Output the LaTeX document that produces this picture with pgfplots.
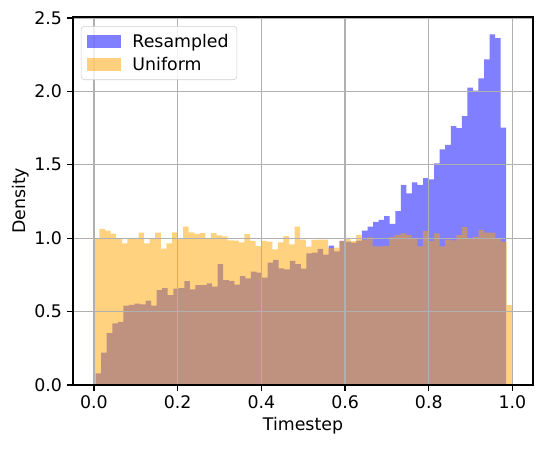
\documentclass[border=0pt]{standalone}
\usepackage{fontspec}
\setmainfont{DejaVu Sans}
\usepackage{pgfplots}
\pgfplotsset{compat=1.18}

\definecolor{mplblue}{rgb}{0,0,1}
\definecolor{mplorange}{rgb}{1,0.647,0}
\definecolor{gridgray}{HTML}{B0B0B0}

\begin{document}
\begin{tikzpicture}
\begin{axis}[
  scale only axis,
  width=331.2pt, height=265.1pt,
  xmin=-0.05, xmax=1.049, ymin=0, ymax=2.508,
  xtick={0,0.2,0.4,0.6,0.8,1.0},
  ytick={0,0.5,1.0,1.5,2.0,2.5},
  xticklabel style={/pgf/number format/.cd,fixed,fixed zerofill,precision=1},
  yticklabel style={/pgf/number format/.cd,fixed,fixed zerofill,precision=1},
  /pgf/number format/assume math mode=true,
  tick label style={font=\fontsize{12.5}{15}\selectfont},
  label style={font=\fontsize{12.5}{15}\selectfont},
  xlabel={Timestep}, ylabel={Density},
  xlabel style={yshift=1pt},
  ylabel style={yshift=-3pt},
  tick align=outside, major tick length=4.4pt,
  tick style={black, line width=1pt},
  xtick pos=bottom, ytick pos=left,
  axis line style={line width=1pt},
  grid=major, major grid style={gridgray, line width=1pt},
  axis on top=true,
  legend style={at={(0.017,0.975)}, anchor=north west,
    draw=black!20, rounded corners=2.5pt, fill=white, fill opacity=0.8, text opacity=1,
    font=\fontsize{12.5}{15}\selectfont, row sep=1.5pt, inner xsep=4pt, inner ysep=3.5pt},
  legend cell align=left,
  legend image code/.code={\fill[#1, sharp corners] (0pt,-4.4pt) rectangle (25pt,4.4pt);
    \path (31pt,0pt);},
]
% Resampled
\addplot[const plot mark left, draw=none, fill=mplblue, fill opacity=0.5] coordinates {
(0.0040,0.080) (0.0173,0.220) (0.0305,0.354) (0.0438,0.420) (0.0570,0.430)
(0.0703,0.540) (0.0835,0.545) (0.0968,0.554) (0.1101,0.550) (0.1233,0.574)
(0.1366,0.540) (0.1498,0.647) (0.1631,0.660) (0.1763,0.613) (0.1896,0.656)
(0.2029,0.660) (0.2161,0.708) (0.2294,0.652) (0.2426,0.681) (0.2559,0.681)
(0.2691,0.693) (0.2824,0.670) (0.2957,0.824) (0.3089,0.715) (0.3222,0.710)
(0.3354,0.683) (0.3487,0.742) (0.3619,0.727) (0.3752,0.772) (0.3885,0.765)
(0.4017,0.731) (0.4150,0.834) (0.4282,0.852) (0.4415,0.794) (0.4547,0.788)
(0.4680,0.845) (0.4813,0.824) (0.4945,0.792) (0.5078,0.897) (0.5210,0.901)
(0.5343,0.928) (0.5475,0.888) (0.5608,0.949) (0.5741,0.910) (0.5873,0.981)
(0.6006,0.976) (0.6138,0.970) (0.6271,0.983) (0.6403,1.051) (0.6536,1.079)
(0.6669,1.112) (0.6801,1.124) (0.6934,1.151) (0.7066,1.097) (0.7199,1.185)
(0.7331,1.364) (0.7464,1.306) (0.7597,1.380) (0.7729,1.364) (0.7862,1.410)
(0.7994,1.400) (0.8127,1.510) (0.8259,1.605) (0.8392,1.635) (0.8525,1.764)
(0.8657,1.749) (0.8790,1.832) (0.8922,2.025) (0.9055,2.005) (0.9187,2.089)
(0.9320,2.218) (0.9453,2.389) (0.9585,2.362) (0.9718,1.753) (0.9850,0)
} \closedcycle;
\addlegendentry{Resampled}
% Uniform
\addplot[const plot mark left, draw=none, fill=mplorange, fill opacity=0.5] coordinates {
(0.0000,1.000) (0.0133,1.063) (0.0266,1.051) (0.0400,1.031) (0.0533,1.000)
(0.0666,0.965) (0.0799,1.000) (0.0932,1.000) (0.1066,1.038) (0.1199,0.965)
(0.1332,1.000) (0.1465,1.038) (0.1598,0.929) (0.1732,0.965) (0.1865,1.040)
(0.1998,1.000) (0.2131,1.078) (0.2264,1.040) (0.2398,1.030) (0.2531,1.035)
(0.2664,1.000) (0.2797,1.035) (0.2930,1.020) (0.3064,1.013) (0.3197,0.985)
(0.3330,0.983) (0.3463,0.972) (0.3596,1.027) (0.3730,0.981) (0.3863,0.947)
(0.3996,0.982) (0.4129,0.977) (0.4262,0.924) (0.4396,0.971) (0.4529,1.014)
(0.4662,0.958) (0.4795,1.078) (0.4928,0.990) (0.5062,0.943) (0.5195,0.988)
(0.5328,0.990) (0.5461,0.990) (0.5594,0.932) (0.5728,0.935) (0.5861,0.982)
(0.5994,1.000) (0.6127,0.980) (0.6260,1.022) (0.6394,0.990) (0.6527,1.005)
(0.6660,0.944) (0.6793,0.945) (0.6926,0.948) (0.7060,1.009) (0.7193,1.022)
(0.7326,1.033) (0.7459,1.022) (0.7592,1.000) (0.7726,0.944) (0.7859,1.049)
(0.7992,0.981) (0.8125,1.033) (0.8258,0.944) (0.8392,0.990) (0.8525,0.985)
(0.8658,1.022) (0.8791,1.076) (0.8924,1.000) (0.9058,1.009) (0.9191,1.056)
(0.9324,1.038) (0.9457,1.038) (0.9590,1.000) (0.9724,0.977) (0.9857,0.545)
(0.9990,0)
} \closedcycle;
\addlegendentry{Uniform}
\end{axis}
\path ([xshift=-52.56pt,yshift=-45.36pt]current axis.south west)
  rectangle ([xshift=10.8pt,yshift=12.1pt]current axis.north east);
\end{tikzpicture}
\end{document}
